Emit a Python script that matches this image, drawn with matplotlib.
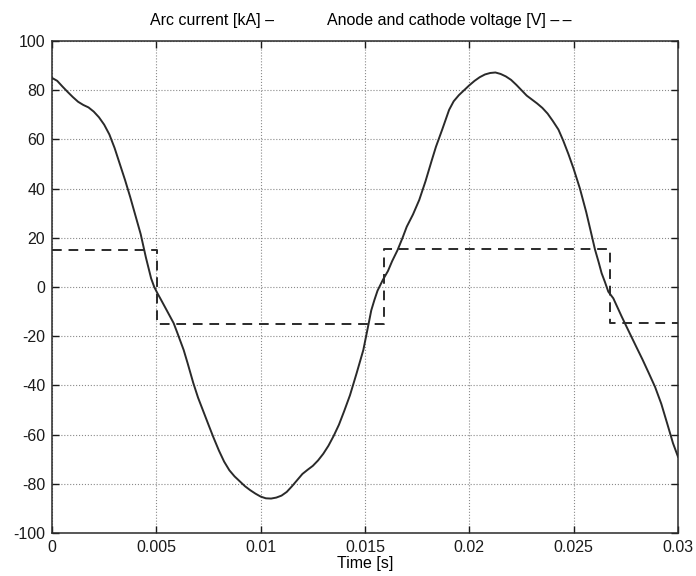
import matplotlib
matplotlib.use('Agg')
import matplotlib.pyplot as plt
import numpy as np

plt.rcParams['font.family'] = ['Liberation Sans', 'DejaVu Sans']
plt.rcParams['axes.unicode_minus'] = False

# arc current [kA] (time in ms)
t_cur_ms = [0.0, 0.25, 0.5, 0.75, 1.0, 1.25, 1.5, 1.75, 2.0, 2.25, 2.5, 2.75,
            3.0, 3.25, 3.5, 3.75, 4.0, 4.25, 4.5, 4.75, 4.9, 5.05, 5.2, 5.5,
            5.83, 6.0, 6.31, 6.5, 6.77, 7.0, 7.25, 7.5, 7.73, 8.0, 8.25, 8.5,
            8.75, 9.0, 9.25, 9.5, 9.75, 10.0, 10.25, 10.5, 10.75, 11.0, 11.25,
            11.5, 11.75, 12.0, 12.25, 12.5, 12.75, 13.0, 13.25, 13.5, 13.75,
            14.0, 14.28, 14.6, 14.92, 15.16, 15.3, 15.45, 15.6, 15.85, 16.1,
            16.3, 16.56, 16.8, 17.0, 17.3, 17.6, 17.9, 18.2, 18.4, 18.7, 19.03,
            19.25, 19.5, 19.75, 20.0, 20.25, 20.5, 20.75, 21.0, 21.25, 21.5,
            21.75, 22.0, 22.25, 22.5, 22.75, 23.0, 23.25, 23.5, 23.75, 24.0,
            24.27, 24.5, 24.75, 25.0, 25.3, 25.6, 25.85, 26.02, 26.2, 26.34,
            26.5, 26.66, 26.9, 27.1, 27.3, 27.6, 28.0, 28.3, 28.6, 28.9, 29.2,
            29.5, 29.76, 30.0]
arc_current = [85, 83.8, 81.5, 79.3, 77.2, 75.3, 74, 73, 71.3, 69, 66, 62,
               56.5, 50, 43.5, 36.5, 29, 21.5, 12, 3.5, 0, -2.5, -4.8, -9.5,
               -14.7, -18.5, -25.6, -31, -39, -45, -50.5, -56, -61, -66.5, -71, -74.5,
               -77, -79, -81, -82.6, -84, -85.2, -85.9, -86, -85.6, -84.8, -83.3,
               -81, -78.5, -76, -74.3, -72.7, -70.5, -67.8, -64.5, -60.5, -56,
               -50.5, -44, -35, -25.6, -15.5, -9.5, -5.3, -1.5, 2.8, 6.5,
               10.5, 15, 20, 24.5, 29.5, 35.4, 43, 51.5, 57, 64, 72,
               75.5, 78, 80, 82, 83.8, 85.3, 86.4, 87, 87.2, 86.6,
               85.6, 84.2, 82.2, 80, 77.8, 76.2, 74.6, 72.8, 70.5, 67.5,
               64, 59.5, 54, 48, 40, 30.5, 21.5, 15.3, 10, 5.6,
               2, -1.9, -4.6, -8.3, -12, -17.3, -24.3, -29.5, -35, -40.6, -47.5,
               -56, -63.5, -69]

# anode and cathode voltage [V], step trace
t_volt_ms = [0.0, 5.04, 5.04, 15.9, 15.9, 26.75, 26.75, 30.0]
voltage = [15, 15, -15, -15, 15.3, 15.3, -14.7, -14.7]

x_ticks = [0, 0.005, 0.01, 0.015, 0.02, 0.025, 0.03]
x_tick_labels = ['0', '0.005', '0.01', '0.015', '0.02', '0.025', '0.03']
y_ticks = [-100, -80, -60, -40, -20, 0, 20, 40, 60, 80, 100]

fig = plt.figure(figsize=(6.96, 5.76), dpi=100)
ax = fig.add_axes([52/696, 1 - 533/576, 626/696, 492/576])

ax.plot(np.array(t_cur_ms) / 1000., arc_current, color='#2a2a2a', lw=1.4)
ax.plot(np.array(t_volt_ms) / 1000., voltage, color='#2a2a2a', lw=1.4,
        linestyle=(0, (5, 3.5)))

ax.set_xlim(0, 0.03)
ax.set_ylim(-100, 100)
ax.set_xticks(x_ticks)
ax.set_xticklabels(x_tick_labels)
ax.set_yticks(y_ticks)
ax.grid(True, linestyle=':', color='#8a8a8a', lw=0.8)
ax.tick_params(direction='in', length=5, width=1, top=True, right=True,
               labelsize=11.5, colors='#1a1a1a', pad=5)
for s in ax.spines.values():
    s.set_linewidth(1.1)
    s.set_color('#2a2a2a')

ax.set_xlabel('Time [s]', fontsize=11.5, labelpad=1)

fig.text(150/696, 1 - 25/576, 'Arc current [kA] \u2013', fontsize=11.5,
         ha='left', va='baseline')
fig.text(327/696, 1 - 25/576, 'Anode and cathode voltage [V] \u2013\u2009\u2013',
         fontsize=11.5, ha='left', va='baseline')

fig.savefig('out.png', dpi=100)
